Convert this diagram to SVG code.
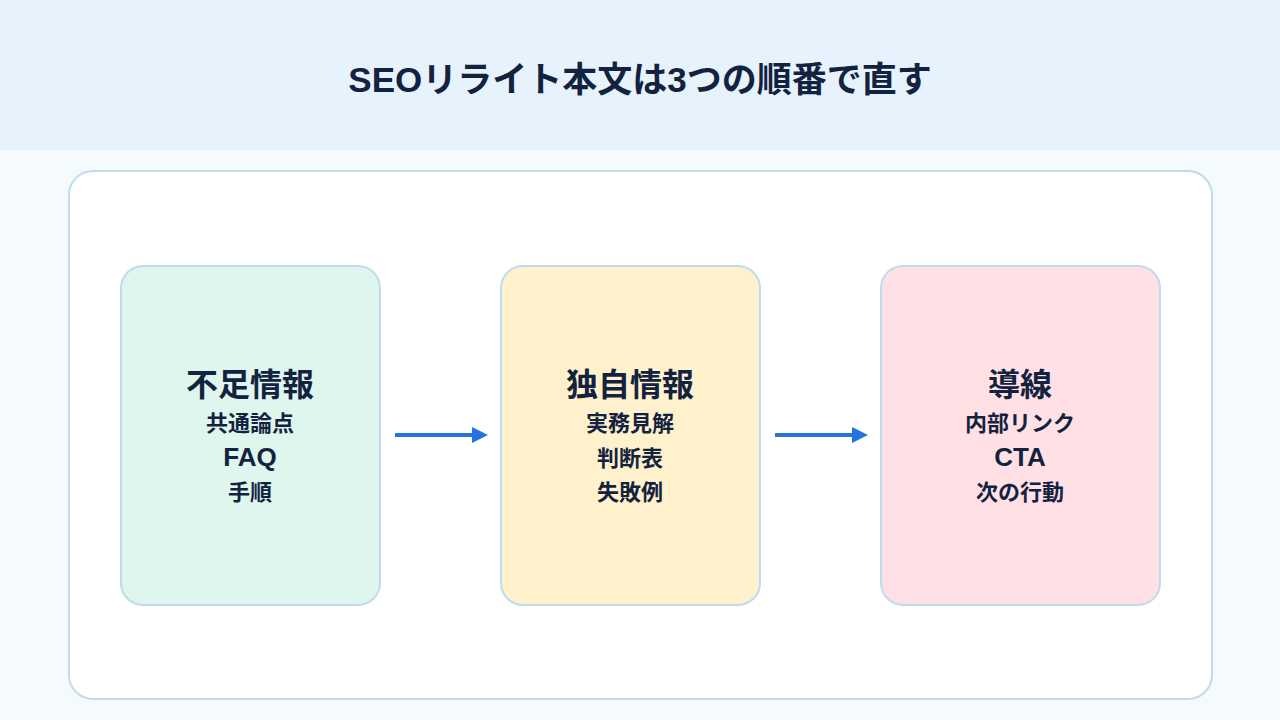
<svg xmlns="http://www.w3.org/2000/svg" width="1280" height="720" viewBox="0 0 1280 720">
<defs>
<style>
.t{font-family:"Liberation Sans","Noto Sans CJK JP",sans-serif;font-weight:700;fill:#13233F;text-anchor:middle}
.h{font-size:32px}
.s{font-size:22px}
.e{font-size:26px}
.node{stroke:#BFDCEE;stroke-width:2}
.conn{stroke:#2673E0;stroke-width:4;fill:none}
</style>
<marker id="ah" markerWidth="4" markerHeight="4" refX="0" refY="2" orient="auto" markerUnits="strokeWidth">
<path d="M0,0 L4,2 L0,4 Z" fill="#2673E0"/>
</marker>
</defs>
<rect x="0" y="0" width="1280" height="720" fill="#F5FAFD"/>
<rect x="0" y="0" width="1280" height="150" fill="#E6F3FD"/>
<text class="t" x="640" y="92" font-size="35">SEOリライト本文は3つの順番で直す</text>
<rect x="69" y="171" width="1143" height="528" rx="24" fill="#FFFFFF" stroke="#BFDCEE" stroke-width="2"/>
<g id="connectors">
<line class="conn" x1="395" y1="435" x2="472" y2="435" marker-end="url(#ah)"/>
<line class="conn" x1="775" y1="435" x2="852" y2="435" marker-end="url(#ah)"/>
</g>
<g id="node1">
<rect class="node" x="121" y="266" width="259" height="339" rx="22" fill="#DFF6EE"/>
<text class="t h" x="250" y="396">不足情報</text>
<text class="t s" x="250" y="431">共通論点</text>
<text class="t e" x="250" y="466">FAQ</text>
<text class="t s" x="250" y="500">手順</text>
</g>
<g id="node2">
<rect class="node" x="501" y="266" width="259" height="339" rx="22" fill="#FFF1CC"/>
<text class="t h" x="630" y="396">独自情報</text>
<text class="t s" x="630" y="431">実務見解</text>
<text class="t s" x="630" y="466">判断表</text>
<text class="t s" x="630" y="500">失敗例</text>
</g>
<g id="node3">
<rect class="node" x="881" y="266" width="279" height="339" rx="22" fill="#FFE1E5"/>
<text class="t h" x="1020" y="396">導線</text>
<text class="t s" x="1020" y="431">内部リンク</text>
<text class="t e" x="1020" y="466">CTA</text>
<text class="t s" x="1020" y="500">次の行動</text>
</g>
</svg>
